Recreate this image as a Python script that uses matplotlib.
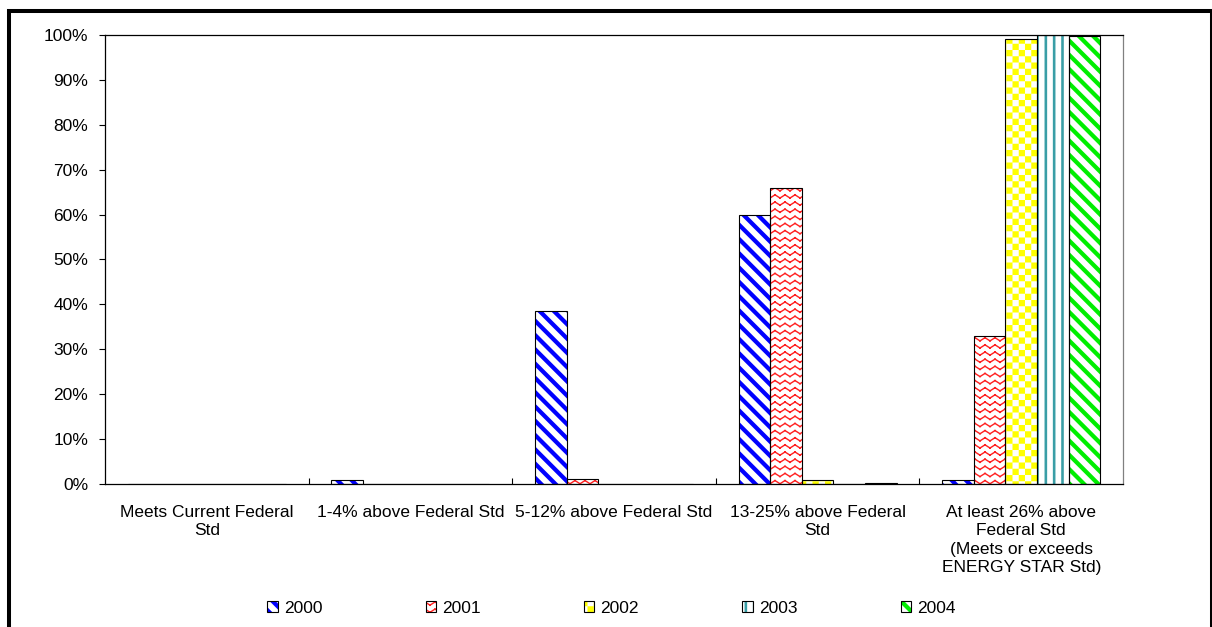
import warnings

import numpy as np
import matplotlib

matplotlib.use("Agg")
import matplotlib.pyplot as plt
from matplotlib import hatch as mhatch
from matplotlib.path import Path
from matplotlib.patches import Rectangle
from matplotlib.ticker import FixedLocator, FuncFormatter

warnings.filterwarnings("ignore")

CATEGORIES = [
    "Meets Current Federal\nStd",
    "1-4% above Federal Std",
    "5-12% above Federal Std",
    "13-25% above Federal\nStd",
    "At least 26% above\nFederal Std\n(Meets or exceeds\nENERGY STAR Std)",
]
YEARS = ["2000", "2001", "2002", "2003", "2004"]

# percent of models in each efficiency bin, per year
SHARE_2000 = [0.0, 0.8, 38.5, 60.0, 0.8]
SHARE_2001 = [0.0, 0.0, 1.0, 66.0, 33.0]
SHARE_2002 = [0.0, 0.0, 0.0, 0.8, 99.0]
SHARE_2003 = [0.0, 0.0, 0.0, 0.0, 100.0]
SHARE_2004 = [0.0, 0.0, 0.0, 0.2, 99.7]
SERIES = [SHARE_2000, SHARE_2001, SHARE_2002, SHARE_2003, SHARE_2004]

HATCH_COLORS = ["#0000ff", "#ff2020", "#ffff00", "#3a9ea6", "#00ee00"]
HATCHES = ["A", "Z", "C", "V", "A"]

FS = 12.5


# ---- custom hatch tiles (Excel-like fills) -------------------------------- #
class PolyHatch(mhatch.HatchPatternBase):
    key = None

    def __init__(self, hatch, density):
        self.polys = self.make() if (hatch and self.key in hatch) else []
        self.num_vertices = 5 * len(self.polys)

    def make(self):
        return []

    def set_vertices_and_codes(self, vertices, codes):
        for i, poly in enumerate(self.polys):
            j = 5 * i
            vertices[j:j + 4] = poly
            vertices[j + 4] = poly[0]
            codes[j] = Path.MOVETO
            codes[j + 1:j + 4] = Path.LINETO
            codes[j + 4] = Path.CLOSEPOLY


class DiagStripes(PolyHatch):
    key = "A"

    def make(self):
        n, h = 7, 0.03
        polys = []
        for k in range(-1, 2 * n + 2):
            c = k / n
            polys.append([(-0.5, c - h + 0.5), (1.5, c - h - 1.5),
                          (1.5, c + h - 1.5), (-0.5, c + h + 0.5)])
        return polys


class VertLines(PolyHatch):
    key = "V"

    def make(self):
        n, w = 12, 0.026
        polys = []
        for k in range(n):
            xc = (k + 0.5) / n
            polys.append([(xc - w / 2, -0.1), (xc + w / 2, -0.1),
                          (xc + w / 2, 1.1), (xc - w / 2, 1.1)])
        return polys


class Checker(PolyHatch):
    key = "C"

    def make(self):
        n = 16
        s = 1.0 / n
        polys = []
        for i in range(n):
            for j in range(n):
                if (i + j) % 2 == 0:
                    polys.append([(i * s, j * s), ((i + 1) * s, j * s),
                                  ((i + 1) * s, (j + 1) * s), (i * s, (j + 1) * s)])
        return polys


class ZigZag(PolyHatch):
    key = "Z"

    def make(self):
        rows, waves, a, t = 14, 10, 0.016, 0.014
        polys = []
        for r in range(rows):
            yc = (r + 0.5) / rows
            pts = [(k / (2 * waves), yc + (a if k % 2 else -a))
                   for k in range(-1, 2 * waves + 2)]
            for p, q in zip(pts[:-1], pts[1:]):
                d = np.subtract(q, p)
                d = d / np.hypot(*d)
                nrm = np.array([-d[1], d[0]]) * t / 2
                p0 = np.array(p) - d * t / 2
                q0 = np.array(q) + d * t / 2
                polys.append([p0 - nrm, q0 - nrm, q0 + nrm, p0 + nrm])
        return polys


mhatch._hatch_types.extend([DiagStripes, VertLines, Checker, ZigZag])

plt.rcParams["font.family"] = ["Liberation Sans", "DejaVu Sans"]
plt.rcParams["hatch.linewidth"] = 0.01

fig = plt.figure(figsize=(12.12, 6.27), dpi=100)
ax = fig.add_axes([0.0866, 0.2281, 0.84, 0.7161])

x = np.arange(len(CATEGORIES))
bar_w = 0.155
handles = []
for i, vals in enumerate(SERIES):
    xs = x + (i - 2) * bar_w
    hb = ax.bar(xs, vals, bar_w, color="white", edgecolor=HATCH_COLORS[i],
                linewidth=0, hatch=HATCHES[i], zorder=2)
    ob = ax.bar(xs, vals, bar_w, fill=False, edgecolor="black",
                linewidth=0.8, zorder=3)
    handles.append((hb, ob))

ax.set_xlim(-0.5, len(CATEGORIES) - 0.5)
ax.set_ylim(0, 100)
ax.set_yticks(np.arange(0, 101, 10))
ax.yaxis.set_major_formatter(FuncFormatter(lambda v, _: f"{v:.0f}%"))
ax.set_xticks(x)
ax.set_xticklabels(CATEGORIES, fontsize=FS, linespacing=1.28)
ax.xaxis.set_minor_locator(FixedLocator(x[:-1] + 0.5))
ax.tick_params(axis="x", which="major", length=0, pad=15)
ax.tick_params(axis="x", which="minor", direction="in", length=4, width=0.8)
ax.tick_params(axis="y", direction="out", length=4, width=0.8, pad=8,
               labelsize=FS)

for s in ["left", "bottom", "top"]:
    ax.spines[s].set_color("black")
    ax.spines[s].set_linewidth(0.9)
ax.spines["right"].set_color("#808080")
ax.spines["right"].set_linewidth(0.9)

fig.legend(handles, YEARS, loc="center", bbox_to_anchor=(0.5045, 0.0303),
           ncol=5, frameon=False, fontsize=FS, handlelength=0.6,
           handleheight=0.6, handletextpad=0.35, columnspacing=5.95)

# thick frame around the whole chart (cut off at right and bottom)
fig.add_artist(Rectangle((9 / 1212, -0.1), 1.0 - 9 / 1212, 1.1 - 11 / 627,
                         transform=fig.transFigure, fill=False,
                         edgecolor="black", linewidth=2.9, clip_on=False))

fig.savefig("out.png", dpi=100)
plt.close(fig)
